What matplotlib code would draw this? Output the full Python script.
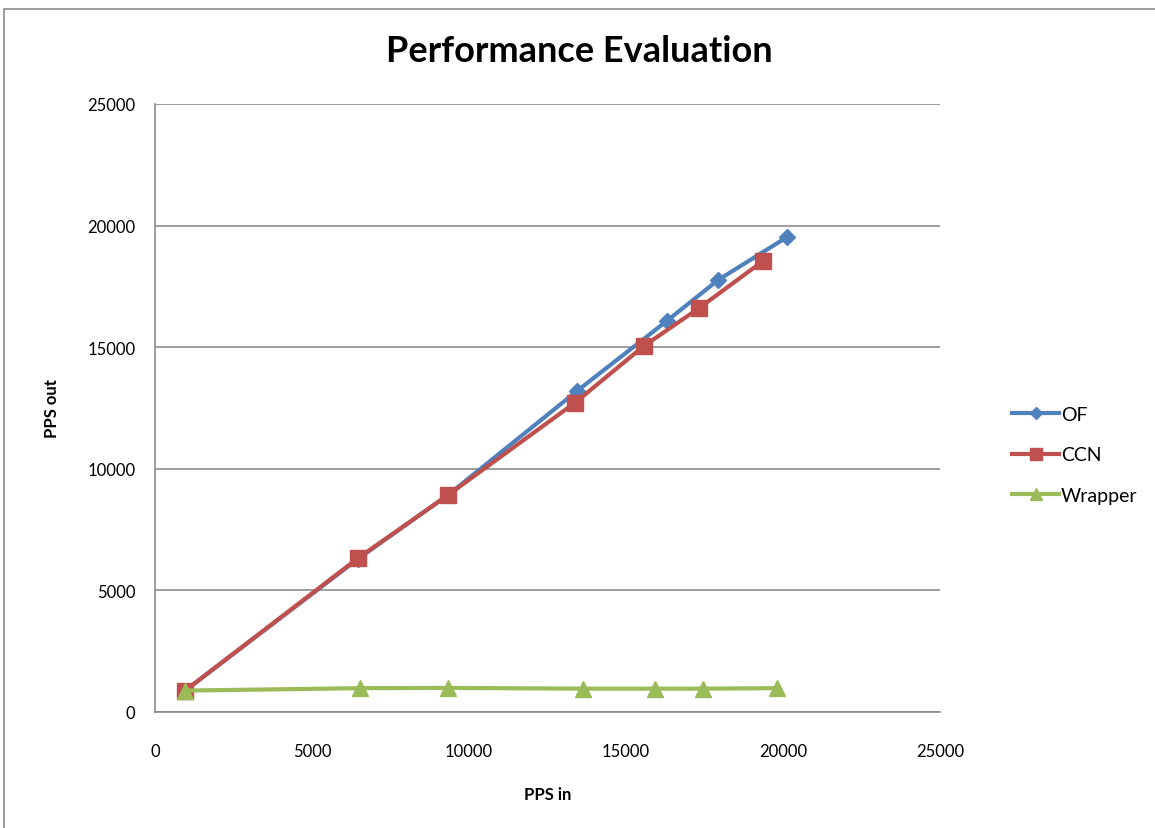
import matplotlib.pyplot as plt
from matplotlib.patches import Rectangle

# PPS in / PPS out per series
of_in = [950, 6470, 9330, 13440, 16300, 17930, 20130]
of_out = [870, 6300, 8920, 13200, 16080, 17760, 19530]

ccn_in = [950, 6470, 9330, 13380, 15570, 17330, 19360]
ccn_out = [870, 6330, 8920, 12720, 15050, 16610, 18540]

wrapper_in = [950, 6530, 9330, 13630, 15920, 17450, 19810]
wrapper_out = [880, 980, 990, 960, 960, 960, 980]

ticks = [0, 5000, 10000, 15000, 20000, 25000]

plt.rcParams["font.family"] = ["Lato", "DejaVu Sans"]

fig = plt.figure(figsize=(11.55, 8.29), dpi=100)
ax = fig.add_axes([155 / 1155, 1 - 713 / 829, 785 / 1155, 608 / 829])

# outer chart frame
fig.patches.append(Rectangle((4 / 1155, -0.1), 1.1, 1 - 10 / 829 + 0.1,
                             transform=fig.transFigure, fill=False,
                             edgecolor="#8c8c8c", linewidth=1.2))

ax.plot(of_in, of_out, color="#4F81BD", lw=3, marker="D", ms=8,
        label="OF", zorder=3)
ax.plot(ccn_in, ccn_out, color="#C0504D", lw=3, marker="s", ms=12,
        label="CCN", zorder=4)
ax.plot(wrapper_in, wrapper_out, color="#9BBB59", lw=3, marker="^", ms=11,
        label="Wrapper", zorder=5)

ax.set_xlim(0, 25000)
ax.set_ylim(0, 25000)
ax.set_xticks(ticks)
ax.set_yticks(ticks)
ax.tick_params(length=0, labelsize=12, pad=14)
ax.tick_params(axis="x", pad=22)
ax.grid(axis="y", color="#8c8c8c", linewidth=1.2)
ax.set_axisbelow(True)
for side in ["top", "right"]:
    ax.spines[side].set_visible(False)
for side in ["left", "bottom"]:
    ax.spines[side].set_color("#8c8c8c")
    ax.spines[side].set_linewidth(1.2)

ax.set_xlabel("PPS in", fontsize=12, fontweight="bold", labelpad=20)
ax.set_ylabel("PPS out", fontsize=12, fontweight="bold", labelpad=20)
fig.text(579 / 1155, 1 - 52 / 829, "Performance Evaluation", fontsize=26,
         fontweight="bold", ha="center", va="center")

ax.legend(loc="center left", bbox_to_anchor=(1.07, 1 - (456 - 105) / 608),
          frameon=False, fontsize=14, handlelength=2.4, handletextpad=0.1,
          labelspacing=1.2, markerscale=0.75)

fig.savefig("out.png", dpi=100)
